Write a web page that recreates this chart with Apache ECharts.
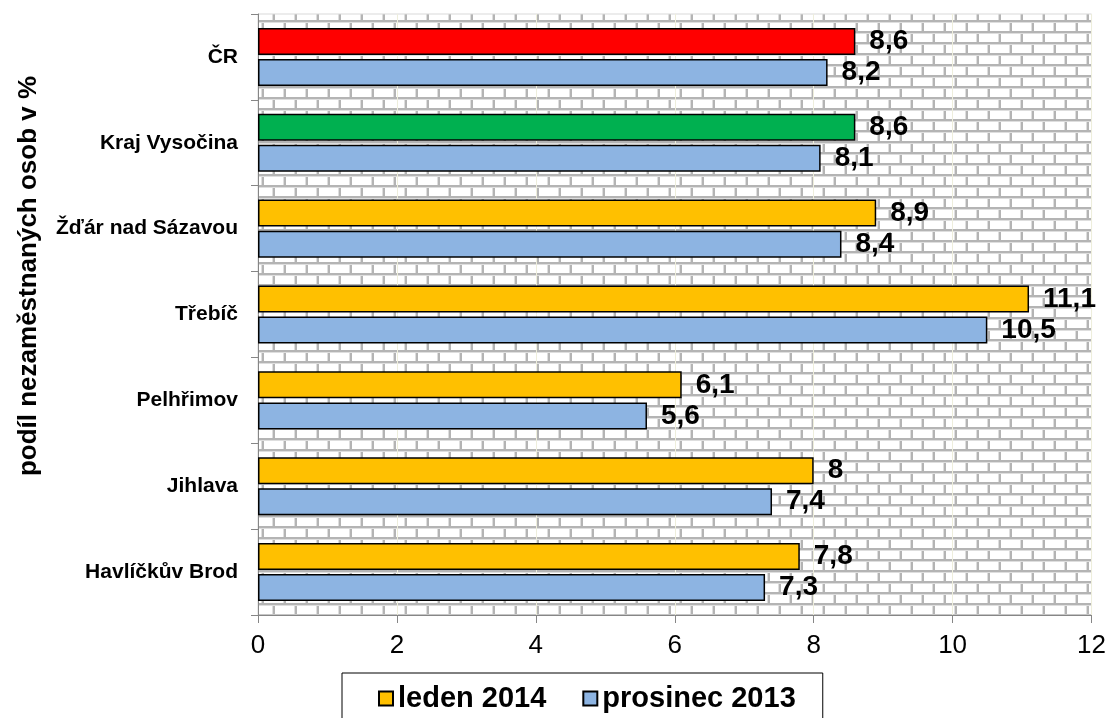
<!DOCTYPE html>
<html>
<head>
<meta charset="utf-8">
<script src="https://cdn.jsdelivr.net/npm/echarts@6/dist/echarts.min.js"></script>
<style>
html, body { margin: 0; padding: 0; background: #fff; }
#container { width: 1109px; height: 718px; }
</style>
</head>
<body>
<div id="container"></div>
<script>
var categories = ['ČR', 'Kraj Vysočina', 'Žďár nad Sázavou', 'Třebíč', 'Pelhřimov', 'Jihlava', 'Havlíčkův Brod'];
var leden2014 = [8.6, 8.6, 8.9, 11.1, 6.1, 8, 7.8];
var prosinec2013 = [8.2, 8.1, 8.4, 10.5, 5.6, 7.4, 7.3];
var seriesNames = ['leden 2014', 'prosinec 2013'];
// zvlastni barvy pro CR a kraj
var ledenColors = ['#ff0000', '#00b050', '#ffc000', '#ffc000', '#ffc000', '#ffc000', '#ffc000'];

var FONT = 'Arial, "Liberation Sans", sans-serif';

// cihlova vypln pozadi grafu
function brickPattern() {
	var c = document.createElement('canvas');
	c.width = 22;
	c.height = 22;
	var ctx = c.getContext('2d');
	ctx.fillStyle = '#ffffff';
	ctx.fillRect(0, 0, 22, 22);
	ctx.fillStyle = '#b4b4b4';
	ctx.fillRect(0, 9, 22, 2);
	ctx.fillRect(0, 20, 22, 2);
	ctx.fillRect(20, 0, 2, 9);
	ctx.fillRect(9, 11, 2, 9);
	ctx.fillStyle = '#dedede';
	ctx.fillRect(0, 0, 22, 1);
	ctx.fillRect(0, 11, 22, 1);
	ctx.fillRect(19, 0, 1, 9);
	ctx.fillRect(8, 11, 1, 9);
	return c;
}

var fmt = function(p) {
	return String(p.value).replace('.', ',');
};

var dom = document.getElementById('container');
var myChart = echarts.init(dom);

var option = {
	backgroundColor: '#ffffff',
	animation: false,
	textStyle: { fontFamily: FONT },
	grid: {
		left: 258,
		right: 17,
		top: 14,
		bottom: 103,
		show: true,
		backgroundColor: { image: brickPattern(), repeat: 'repeat' },
		borderColor: '#d9d9d9',
		borderWidth: 1
	},
	legend: {
		left: 342,
		top: 673,
		padding: [11, 27, 14, 36],
		itemGap: 36,
		itemWidth: 14,
		itemHeight: 14,
		borderColor: '#000',
		borderWidth: 1,
		icon: 'rect',
		data: seriesNames,
		textStyle: { fontSize: 29, fontWeight: 'bold', color: '#000', fontFamily: FONT }
	},
	xAxis: {
		type: 'value',
		min: 0,
		max: 12,
		interval: 2,
		axisLine: { show: true, lineStyle: { color: '#868686', width: 1 } },
		axisTick: { show: true, length: 8, lineStyle: { color: '#868686' } },
		axisLabel: { fontSize: 26, color: '#000', margin: 18, fontFamily: FONT },
		splitLine: { show: true, lineStyle: { color: '#eeeedc', width: 1 } }
	},
	yAxis: {
		type: 'category',
		inverse: true,
		data: categories,
		name: 'podíl nezaměstnaných osob v %',
		nameLocation: 'middle',
		nameGap: 216,
		nameTextStyle: { fontSize: 26, fontWeight: 'bold', color: '#000', fontFamily: FONT, padding: [0, 0, 0, 77] },
		axisLine: { show: true, lineStyle: { color: '#868686', width: 1 } },
		axisTick: { show: true, length: 7, lineStyle: { color: '#868686' } },
		axisLabel: { fontSize: 21, fontWeight: 'bold', color: '#000', margin: 20, fontFamily: FONT }
	},
	series: [{
		name: seriesNames[0],
		type: 'bar',
		barWidth: 27,
		barGap: '15%',
		data: leden2014.map(function(v, i) {
			return { value: v, itemStyle: { color: ledenColors[i] } };
		}),
		itemStyle: { color: '#ffc000', borderColor: '#000', borderWidth: 1.5 },
		label: {
			show: true,
			position: 'right',
			distance: 14,
			formatter: fmt,
			fontSize: 28,
			fontWeight: 'bold',
			color: '#000',
			fontFamily: FONT
		}
	}, {
		name: seriesNames[1],
		type: 'bar',
		barWidth: 27,
		barGap: '15%',
		data: prosinec2013,
		itemStyle: { color: '#8db4e2', borderColor: '#000', borderWidth: 1.5 },
		label: {
			show: true,
			position: 'right',
			distance: 14,
			formatter: fmt,
			fontSize: 28,
			fontWeight: 'bold',
			color: '#000',
			fontFamily: FONT
		}
	}]
};

myChart.setOption(option);
</script>
</body>
</html>
